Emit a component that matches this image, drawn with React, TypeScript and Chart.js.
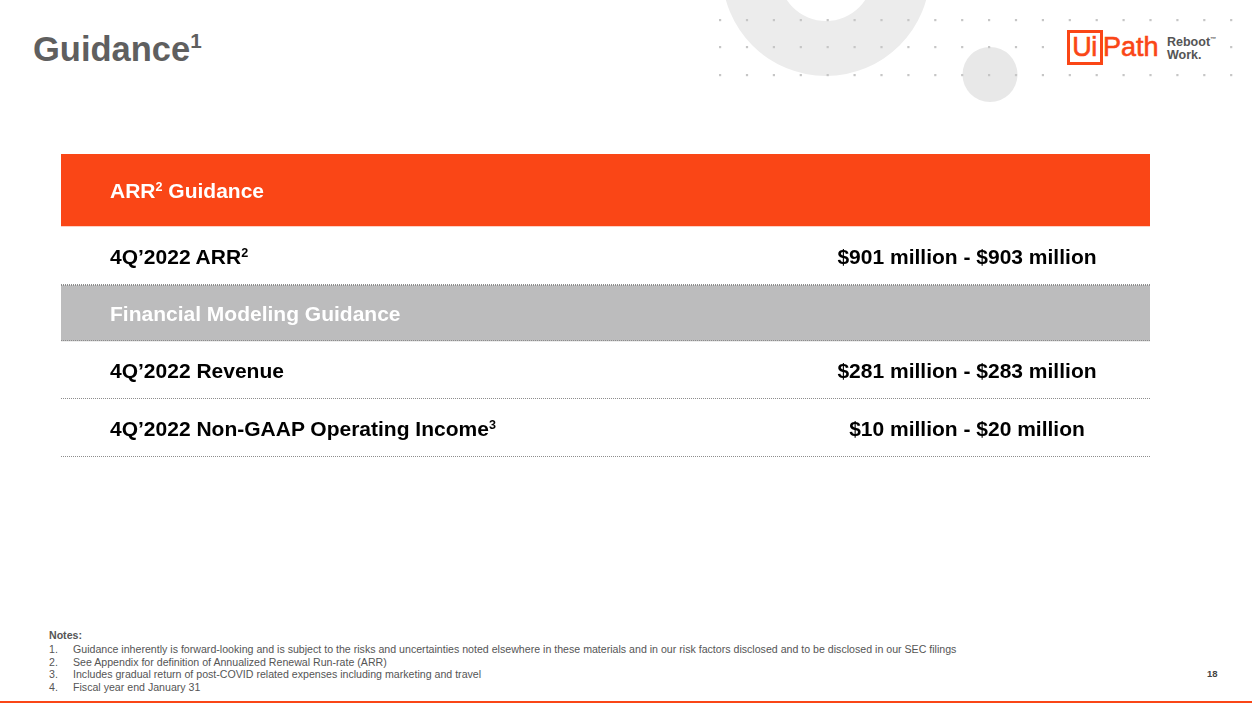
import React, { useEffect, useRef } from "react";
import { Chart, registerables } from "chart.js";

Chart.register(...registerables);

// ---------- data ----------
const titleText = "Guidance";
const titleNote = "1";

// label parts: even index = normal text, odd index = superscript
const rowLabelParts: string[][] = [
  ["ARR", "2", " Guidance"],
  ["4Q\u20192022 ARR", "2"],
  ["Financial Modeling Guidance"],
  ["4Q\u20192022 Revenue"],
  ["4Q\u20192022 Non-GAAP Operating Income", "3"],
];
const rowValues: string[] = [
  "",
  "$901 million - $903 million",
  "",
  "$281 million - $283 million",
  "$10 million - $20 million",
];
const rowKinds: string[] = ["header", "item", "subheader", "item", "item"];

const notesTitle = "Notes:";
const notes: string[] = [
  "Guidance inherently is forward-looking and is subject to the risks and uncertainties noted elsewhere in these materials and in our risk factors disclosed and to be disclosed in our SEC filings",
  "See Appendix for definition of Annualized Renewal Run-rate (ARR)",
  "Includes gradual return of post-COVID related expenses including marketing and travel",
  "Fiscal year end January 31",
];
const pageNumber = "18";

// ---------- layout / style ----------
const FONT = '"Liberation Sans", Arial, Helvetica, sans-serif';
const ORANGE = "#fa4616";
const BAND_GRAY = "#bcbcbd";
const TABLE_LEFT = 61;
const TABLE_TOP = 154;
const TABLE_WIDTH = 1089;
const ROW_HEIGHTS = [72, 59, 56, 58, 58];
const TABLE_HEIGHT = ROW_HEIGHTS.reduce((a, b) => a + b, 0);
const CANVAS_PAD = 3;
const VALUE_CENTER = 967;

const kindFill: Record<string, string> = {
  header: ORANGE,
  subheader: BAND_GRAY,
  item: "#ffffff",
};
const kindText: Record<string, string> = {
  header: "#ffffff",
  subheader: "#ffffff",
  item: "#000000",
};
const kindDividerBelow: Record<string, boolean> = {
  header: false,
  subheader: true,
  item: true,
};

const Sup: React.FC<{ text: string; top?: string }> = ({ text, top = "-0.55em" }) => (
  <span style={{ fontSize: "0.6em", position: "relative", top }}>{text}</span>
);

const dividerPlugin = {
  id: "rowDividers",
  afterDatasetsDraw(chart: any) {
    const y = chart.scales.y;
    const { ctx, chartArea } = chart;
    ctx.save();
    ctx.strokeStyle = "#8d8d8d";
    ctx.lineWidth = 1;
    ctx.setLineDash([1, 1]);
    let cum = 0;
    rowKinds.forEach((k, i) => {
      const next = rowKinds[i + 1];
      if (next === "subheader") {
        const py = Math.round(y.getPixelForValue(cum + ROW_HEIGHTS[i])) + 0.5;
        ctx.beginPath();
        ctx.moveTo(chartArea.left, py);
        ctx.lineTo(chartArea.right, py);
        ctx.stroke();
      }
      cum += ROW_HEIGHTS[i];
      if (kindDividerBelow[k]) {
        const py = Math.round(y.getPixelForValue(cum)) - 0.5;
        ctx.beginPath();
        ctx.moveTo(chartArea.left, py);
        ctx.lineTo(chartArea.right, py);
        ctx.stroke();
      }
    });
    ctx.restore();
  },
};

const TableBands: React.FC = () => {
  const ref = useRef<HTMLCanvasElement | null>(null);
  useEffect(() => {
    if (!ref.current) return;
    const chart = new Chart(ref.current, {
      type: "bar",
      data: {
        labels: ["table"],
        datasets: rowKinds.map((k, i) => ({
          label: `row${i}`,
          data: [ROW_HEIGHTS[i]],
          backgroundColor: kindFill[k],
          borderWidth: 0,
          stack: "rows",
          barPercentage: 1,
          categoryPercentage: 1,
        })),
      },
      options: {
        animation: false,
        responsive: false,
        maintainAspectRatio: false,
        devicePixelRatio: 1,
        layout: { padding: { top: 0, bottom: CANVAS_PAD, left: 0, right: 0 } },
        plugins: { legend: { display: false }, tooltip: { enabled: false } },
        scales: {
          x: { display: false, stacked: true },
          y: {
            display: false,
            stacked: true,
            reverse: true,
            min: 0,
            max: TABLE_HEIGHT,
          },
        },
      },
      plugins: [dividerPlugin],
    });
    return () => chart.destroy();
  }, []);
  return (
    <canvas
      ref={ref}
      width={TABLE_WIDTH}
      height={TABLE_HEIGHT + CANVAS_PAD}
      style={{ position: "absolute", left: 0, top: 0 }}
    />
  );
};

const dotXs: number[] = Array.from({ length: 20 }, (_, i) => 720 + i * 26.9);
const dotYs: number[] = [20, 47, 75];

const App: React.FC = () => {
  let cumTop = 0;
  return (
    <div
      style={{
        position: "fixed",
        left: 0,
        top: 0,
        width: 1252,
        height: 703,
        overflow: "hidden",
        background: "#ffffff",
        fontFamily: FONT,
      }}
    >
      {/* decoration */}
      <svg width={1252} height={110} style={{ position: "absolute", left: 0, top: 0 }}>
        <path
          d="M 826 -28 m -104 0 a 104 104 0 1 0 208 0 a 104 104 0 1 0 -208 0 Z M 826 -26 m -47 0 a 47 47 0 1 1 94 0 a 47 47 0 1 1 -94 0 Z"
          fill="#ececec"
          fillRule="evenodd"
        />
        <circle cx={990} cy={74.5} r={27.5} fill="#e8e8e8" />
        {dotYs.map((y) =>
          dotXs.map((x) => (
            <rect key={`${x}-${y}`} x={x - 1} y={y - 1} width={2.2} height={2.2} fill="#c6c6c6" />
          ))
        )}
      </svg>

      {/* logo */}
      <div
        style={{
          position: "absolute",
          left: 1056,
          top: 27,
          width: 166,
          height: 41,
          background: "#ffffff",
        }}
      >
        <div
          style={{
            position: "absolute",
            left: 10.5,
            top: 3,
            width: 30,
            height: 29,
            border: `3px solid ${ORANGE}`,
            color: ORANGE,
            fontSize: 27,
            lineHeight: "29px",
            textAlign: "center",
            letterSpacing: -0.5,
            WebkitTextStroke: `0.6px ${ORANGE}`,
          }}
        >
          Ui
        </div>
        <div
          style={{
            position: "absolute",
            left: 47,
            top: 5,
            color: ORANGE,
            fontSize: 27,
            lineHeight: "30px",
            WebkitTextStroke: `0.6px ${ORANGE}`,
          }}
        >
          Path
        </div>
        <div
          style={{
            position: "absolute",
            left: 111,
            top: 10,
            color: "#555555",
            fontSize: 12.5,
            lineHeight: "10.5px",
            fontWeight: 700,
          }}
        >
          <div>
            Reboot<span style={{ fontSize: 6, position: "relative", top: -5 }}>™</span>
          </div>
          <div>Work.</div>
        </div>
      </div>

      {/* title */}
      <div
        style={{
          position: "absolute",
          left: 33,
          top: 32,
          fontSize: 34.5,
          lineHeight: 1,
          fontWeight: 700,
          color: "#5f5f5f",
          whiteSpace: "nowrap",
        }}
      >
        {titleText}
        <Sup text={titleNote} top="-0.62em" />
      </div>

      {/* table */}
      <div
        style={{
          position: "absolute",
          left: TABLE_LEFT,
          top: TABLE_TOP,
          width: TABLE_WIDTH,
          height: TABLE_HEIGHT + CANVAS_PAD,
        }}
      >
        <TableBands />
        {rowKinds.map((k, i) => {
          const top = cumTop;
          cumTop += ROW_HEIGHTS[i];
          return (
            <div
              key={i}
              style={{
                position: "absolute",
                left: 0,
                top,
                width: TABLE_WIDTH,
                height: ROW_HEIGHTS[i],
                display: "flex",
                alignItems: "center",
                color: kindText[k],
                fontWeight: 700,
                fontSize: 21,
                lineHeight: 1,
                whiteSpace: "nowrap",
              }}
            >
              <div style={{ position: "absolute", left: 49, top: ROW_HEIGHTS[i] / 2 - 10 }}>
                {rowLabelParts[i].map((p, j) =>
                  j % 2 === 1 ? <Sup key={j} text={p} /> : <span key={j}>{p}</span>
                )}
              </div>
              {rowValues[i] && (
                <div
                  style={{
                    position: "absolute",
                    top: ROW_HEIGHTS[i] / 2 - 10,
                    left: VALUE_CENTER - TABLE_LEFT - 200,
                    width: 400,
                    textAlign: "center",
                  }}
                >
                  {rowValues[i]}
                </div>
              )}
            </div>
          );
        })}
      </div>

      {/* notes */}
      <div
        style={{
          position: "absolute",
          left: 49,
          top: 630,
          fontSize: 10.6,
          lineHeight: 1,
          fontWeight: 700,
          color: "#555555",
        }}
      >
        {notesTitle}
      </div>
      {notes.map((n, i) => (
        <div
          key={i}
          style={{
            position: "absolute",
            left: 49,
            top: 644 + i * 12.7,
            fontSize: 10.62,
            lineHeight: 1,
            color: "#555555",
            whiteSpace: "nowrap",
          }}
        >
          <span style={{ position: "absolute", left: 0 }}>{`${i + 1}.`}</span>
          <span style={{ position: "absolute", left: 24 }}>{n}</span>
        </div>
      ))}

      {/* page number */}
      <div
        style={{
          position: "absolute",
          left: 1207,
          top: 669,
          fontSize: 9.5,
          lineHeight: 1,
          fontWeight: 700,
          color: "#444444",
        }}
      >
        {pageNumber}
      </div>

      {/* bottom rule */}
      <div
        style={{
          position: "absolute",
          left: 0,
          top: 701,
          width: 1252,
          height: 2,
          background: ORANGE,
        }}
      />
    </div>
  );
};

export default App;
